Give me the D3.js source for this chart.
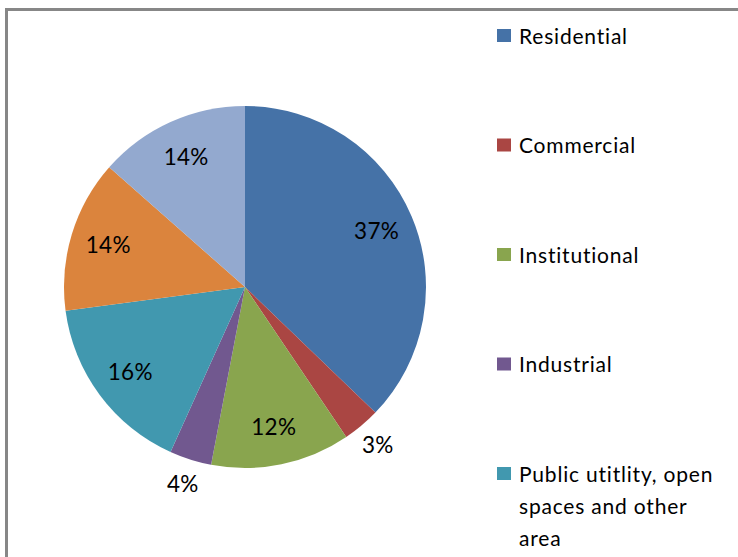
<!DOCTYPE html>
<html>
<head>
<meta charset="utf-8">
<script src="https://cdn.jsdelivr.net/npm/d3@7"></script>
<style>
  html, body { margin: 0; padding: 0; background: #fff; }
  text { font-family: Lato, "Open Sans", sans-serif; fill: #000; font-variant-ligatures: none; font-feature-settings: "liga" 0; }
</style>
</head>
<body>
<div id="chart"></div>
<script>
const width = 738;
const height = 557;

// land use shares (%), clockwise from 12 o'clock; labels show them rounded
const categories = ["Residential", "Commercial", "Institutional", "Industrial",
	"Public utitlity, open spaces and other area", "", ""];
const shares = [37.2, 3.35, 12.45, 3.75, 16.15, 13.6, 13.5];
const colors = ["#4572A7", "#AA4643", "#89A54E", "#71588F", "#4198AF", "#DB843D", "#93A9CF"];

const data = categories.map((c, i) => ({ name: c, value: shares[i], color: colors[i] }));

const svg = d3.select("#chart").append("svg")
	.attr("width", width)
	.attr("height", height);

// chart area frame (runs off the right and bottom edges)
svg.append("rect")
	.attr("x", 6.5)
	.attr("y", 9.5)
	.attr("width", 800)
	.attr("height", 700)
	.attr("fill", "none")
	.attr("stroke", "#878787")
	.attr("stroke-width", 3);

const cx = 245, cy = 287, r = 181;

const pie = d3.pie().sort(null).value(d => d.value);
const arc = d3.arc().innerRadius(0).outerRadius(r);
const inLabel = d3.arc().innerRadius(r * 0.79).outerRadius(r * 0.79);
const outLabel = d3.arc().innerRadius(r * 1.14).outerRadius(r * 1.14);

const g = svg.append("g").attr("transform", `translate(${cx},${cy})`);
const arcs = pie(data);

g.selectAll("path")
	.data(arcs)
	.enter().append("path")
		.attr("d", arc)
		.attr("fill", d => d.data.color)
		.attr("stroke", "none");

g.selectAll("text.pct")
	.data(arcs)
	.enter().append("text")
		.attr("class", "pct")
		.attr("transform", d => `translate(${(d.data.value < 5 ? outLabel : inLabel).centroid(d)})`)
		.attr("text-anchor", "middle")
		.attr("dy", "0.36em")
		.style("font-size", "22.5px")
		.style("letter-spacing", "0.3px")
		.text(d => Math.round(d.data.value) + "%");

// legend
const legend = svg.append("g").attr("transform", "translate(497,0)");
const items = legend.selectAll("g")
	.data(data.filter(d => d.name))
	.enter().append("g")
		.attr("transform", (d, i) => `translate(0,${36 + i * 109.5})`);

items.append("rect")
	.attr("x", 0)
	.attr("y", -7)
	.attr("width", 14)
	.attr("height", 13)
	.attr("fill", d => d.color);

items.append("text")
	.style("font-size", "21px")
	.style("letter-spacing", "0.8px")
	.each(function(d) {
		const t = d3.select(this);
		const words = d.name.split(" ");
		let line = [];
		let n = 0;
		const newLine = () => t.append("tspan").attr("x", 22).attr("y", n * 32).attr("dy", "0.36em");
		let tspan = newLine();
		words.forEach(w => {
			line.push(w);
			tspan.text(line.join(" "));
			if (tspan.node().getComputedTextLength() > 212 && line.length > 1) {
				line.pop();
				tspan.text(line.join(" "));
				line = [w];
				n++;
				tspan = newLine().text(w);
			}
		});
	});
</script>
</body>
</html>
